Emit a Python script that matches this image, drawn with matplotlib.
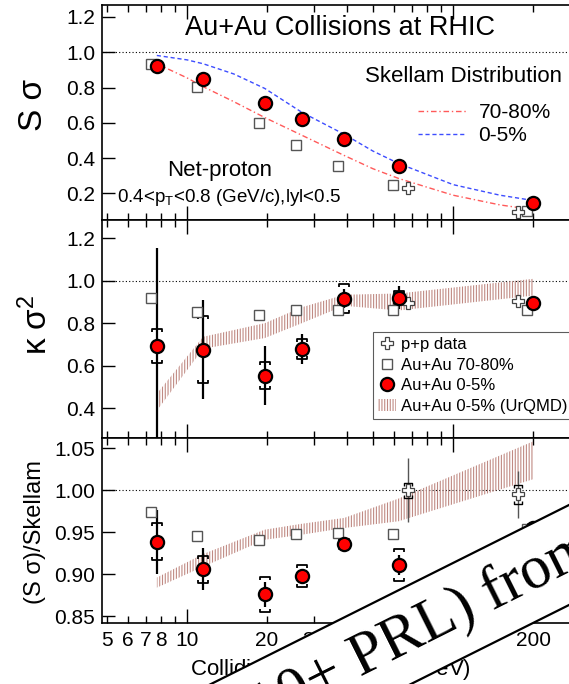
import numpy as np
import matplotlib
matplotlib.use('Agg')
import matplotlib.pyplot as plt
from matplotlib.path import Path
from matplotlib.lines import Line2D
from matplotlib.patches import Patch, Polygon
from matplotlib.transforms import offset_copy

plt.rcParams['font.family'] = ['Liberation Sans', 'DejaVu Sans']
plt.rcParams['mathtext.default'] = 'regular'
plt.rcParams['hatch.linewidth'] = 0.8

# collision energies (GeV)
energy = np.array([7.7, 11.5, 19.6, 27.0, 39.0, 62.4, 200.0])
energy_pp = np.array([62.4, 200.0])

# S*sigma
ss_central = [0.921, 0.848, 0.713, 0.623, 0.510, 0.358, 0.144]
ss_periph = [0.932, 0.803, 0.600, 0.476, 0.358, 0.245, 0.099]
ss_pp = [0.228, 0.093]

# Skellam expectation curves
skellam_energy = [7.7, 10, 11.5, 15, 19.6, 27, 39, 50, 62.4, 100, 150, 200]
skellam_central = [0.982, 0.957, 0.935, 0.877, 0.795, 0.660, 0.535, 0.440, 0.370, 0.250, 0.190, 0.160]
skellam_periph = [0.935, 0.855, 0.805, 0.720, 0.630, 0.530, 0.415, 0.340, 0.285, 0.190, 0.135, 0.108]

# kappa*sigma^2
ks_central = [0.694, 0.675, 0.553, 0.680, 0.916, 0.920, 0.896]
ks_central_stat = [0.46, 0.233, 0.14, 0.07, 0.045, 0.055, 0.01]
ks_central_sys = [0.08, 0.158, 0.062, 0.047, 0.067, 0.031, 0.008]
ks_periph = [0.920, 0.854, 0.840, 0.860, 0.860, 0.863, 0.860]
ks_pp = [0.896, 0.906]
ks_urqmd_lo = [0.388, 0.680, 0.730, 0.800, 0.882, 0.860, 0.930]
ks_urqmd_hi = [0.468, 0.736, 0.800, 0.875, 0.934, 0.940, 1.009]

# (S sigma)/Skellam
ratio_central = [0.9385, 0.906, 0.876, 0.898, 0.936, 0.911, 0.955]
ratio_central_stat = [0.038, 0.025, 0.015, 0.008, 0.004, 0.012, 0.004]
ratio_central_sys = [0.022, 0.016, 0.021, 0.013, 0.006, 0.019, 0.005]
ratio_periph = [0.974, 0.946, 0.941, 0.948, 0.949, 0.948, 0.954]
ratio_periph_sys = [0.002, 0.002, 0.002, 0.005, 0.005, 0.004, 0.004]
ratio_pp = [1.000, 0.995]
ratio_pp_stat = [0.038, 0.028]
ratio_pp_sys = [0.009, 0.011]
ratio_urqmd_lo = [0.884, 0.909, 0.941, 0.947, 0.955, 0.963, 1.013]
ratio_urqmd_hi = [0.896, 0.924, 0.953, 0.960, 0.967, 0.990, 1.058]

xticks_major = [10, 100]
xticks_minor = [5, 6, 7, 8, 9, 20, 30, 40, 50, 60, 70, 80, 90, 200]
xlabels_minor = ['5', '6', '7', '8', '', '20', '30', '', '', '', '', '', '', '200']

band_color = '#c08a83'
band_hatch = '||||||'
cap_up = Path([(-1, -0.7), (-1, 0), (1, 0), (1, -0.7)])
cap_dn = Path([(-1, 0.7), (-1, 0), (1, 0), (1, 0.7)])

fig = plt.figure(figsize=(5.69, 6.84), dpi=100)
left, width = 0.1793, 0.8313
ax1 = fig.add_axes([left, 0.678, width, 0.3147])
ax2 = fig.add_axes([left, 0.3596, width, 0.3184])
ax3 = fig.add_axes([left, 0.0892, width, 0.2704])


def sys_caps(ax, x, y, err, size=7, lw=1.3, color='k', trans=None):
    y = np.asarray(y)
    err = np.asarray(err)
    kw = dict(ls='none', ms=size, mew=lw, mec=color, mfc='none', zorder=4)
    if trans is not None:
        kw['transform'] = trans
    ax.plot(x, y + err, marker=cap_up, **kw)
    ax.plot(x, y - err, marker=cap_dn, **kw)


def style(ax, ylim, yticks, fmt, labels=False):
    ax.set_xscale('log')
    ax.set_xlim(4.793, 287.4)
    ax.set_ylim(*ylim)
    ax.set_xticks(xticks_major, ['10', '100'])
    ax.set_xticks(xticks_minor, xlabels_minor, minor=True)
    ax.set_yticks(yticks, [fmt % v for v in yticks])
    ax.yaxis.set_minor_locator(plt.NullLocator())
    ax.tick_params(axis='x', which='both', direction='in', top=True, bottom=True,
                   labelsize=15, pad=6, labelbottom=labels)
    ax.tick_params(axis='x', which='major', length=10, width=1)
    ax.tick_params(axis='x', which='minor', length=5, width=1)
    ax.tick_params(axis='y', which='both', direction='in', left=True, right=False,
                   length=9, width=1, labelsize=15, pad=5)
    for s in ax.spines.values():
        s.set_linewidth(1.2)
    ax.axhline(1.0, color='k', ls=(0, (1, 2)), lw=0.8, zorder=1)


def shifted(ax, dx):
    return offset_copy(ax.transData, fig=fig, x=dx, y=0, units='dots')


circ = dict(ls='none', marker='o', ms=9.5, mfc='red', mec='k', mew=1.6, zorder=6)
sq = dict(ls='none', marker='s', ms=7, mfc='white', mec='#555555', mew=1.0, zorder=5)
cross = dict(ls='none', marker='P', ms=8, mfc='white', mec='#444444', mew=0.9, zorder=5)
pp_dx = [9, -15]

# --- S sigma ---
style(ax1, (0.048, 1.268), [0.2, 0.4, 0.6, 0.8, 1.0, 1.2], '%.1f')
l_per, = ax1.plot(skellam_energy, skellam_periph, color='#ff5a5a', lw=1.0,
                  ls=(0, (4, 2, 1, 2)), zorder=2)
l_cen, = ax1.plot(skellam_energy, skellam_central, color='#3d4dff', lw=1.0,
                  ls=(0, (3, 2)), zorder=2)
ax1.plot(energy, ss_periph, transform=shifted(ax1, -6), **sq)
for e, v, dx in zip(energy_pp, ss_pp, pp_dx):
    ax1.plot([e], [v], transform=shifted(ax1, dx), **cross)
ax1.plot(energy, ss_central, **circ)
ax1.text(0.176, 0.893, 'Au+Au Collisions at RHIC', transform=ax1.transAxes,
         fontsize=19.5, va='center')
ax1.text(0.556, 0.67, 'Skellam Distribution', transform=ax1.transAxes,
         fontsize=16, va='center')
ax1.text(0.1375, 0.233, 'Net-proton', transform=ax1.transAxes, fontsize=16, va='center')
ax1.text(0.032, 0.107, '0.4<p$_T$<0.8 (GeV/c),lyl<0.5', transform=ax1.transAxes,
         fontsize=13.5, va='center')
ax1.legend([l_per, l_cen], ['70-80%', '0-5%'], loc='upper left',
           bbox_to_anchor=(0.668, 0.545), borderaxespad=0, borderpad=0, frameon=False,
           fontsize=15, handlelength=2.3, handletextpad=0.6, labelspacing=0.2)

# --- kappa sigma^2 ---
style(ax2, (0.259, 1.285), [0.4, 0.6, 0.8, 1.0, 1.2], '%.1f')
ax2.fill_between(energy, ks_urqmd_lo, ks_urqmd_hi, facecolor='none',
                 edgecolor=band_color, hatch=band_hatch, lw=0, zorder=2)
ax2.plot(energy, ks_periph, transform=shifted(ax2, -6), **sq)
for e, v, dx in zip(energy_pp, ks_pp, pp_dx):
    ax2.plot([e], [v], transform=shifted(ax2, dx), **cross)
ax2.errorbar(energy, ks_central, yerr=ks_central_stat, fmt='none', ecolor='k',
             elinewidth=1.6, capsize=0, zorder=3)
sys_caps(ax2, energy, ks_central, ks_central_sys)
ax2.plot(energy, ks_central, **circ)
handles = [Line2D([], [], **cross), Line2D([], [], **sq), Line2D([], [], **circ),
           Patch(facecolor='none', edgecolor=band_color, hatch=band_hatch, lw=0)]
leg = ax2.legend(handles, ['p+p data', 'Au+Au 70-80%', 'Au+Au 0-5%', 'Au+Au 0-5% (UrQMD)'],
                 loc='upper left', bbox_to_anchor=(0.573, 0.486), borderaxespad=0,
                 fancybox=False, edgecolor='#333333', fontsize=12, handlelength=1.1,
                 handletextpad=0.3, labelspacing=0.33, borderpad=0.3)
leg.get_frame().set_linewidth(0.8)

# --- (S sigma)/Skellam ---
style(ax3, (0.842, 1.062), [0.85, 0.90, 0.95, 1.00, 1.05], '%.2f', labels=True)
ax3.fill_between(energy, ratio_urqmd_lo, ratio_urqmd_hi, facecolor='none',
                 edgecolor=band_color, hatch=band_hatch, lw=0, zorder=2)
ax3.plot(energy, ratio_periph, transform=shifted(ax3, -6), **sq)
sys_caps(ax3, energy, ratio_periph, ratio_periph_sys, size=6, lw=1.0,
         trans=shifted(ax3, -6))
for e, v, st, sy, dx in zip(energy_pp, ratio_pp, ratio_pp_stat, ratio_pp_sys, pp_dx):
    tr = shifted(ax3, dx)
    ax3.errorbar([e], [v], yerr=[st], fmt='none', ecolor='#555555', elinewidth=1.0,
                 capsize=0, zorder=3, transform=tr)
    sys_caps(ax3, [e], [v], [sy], size=6, lw=1.0, trans=tr)
    ax3.plot([e], [v], transform=tr, **cross)
ax3.errorbar(energy, ratio_central, yerr=ratio_central_stat, fmt='none', ecolor='k',
             elinewidth=1.6, capsize=0, zorder=3)
sys_caps(ax3, energy, ratio_central, ratio_central_sys)
ax3.plot(energy, ratio_central, **circ)

fig.text(0.058, 0.846, 'S σ', rotation=90, fontsize=24, ha='center', va='center')
fig.text(0.065, 0.525, 'κ σ$^2$', rotation=90, fontsize=24, ha='center', va='center')
fig.text(0.0615, 0.222, '(S σ)/Skellam', rotation=90, fontsize=17, ha='center', va='center')
fig.text(0.334, 0.013, 'Colliding Energy √s$_{NN}$ (GeV)', fontsize=16,
         ha='left', va='baseline')

# slanted banner across the lower right corner
over = fig.add_axes([0, 0, 1, 1], zorder=10)
over.set_xlim(0, 569)
over.set_ylim(684, 0)
over.axis('off')
bx = np.array([150.0, 700.0])
by_top = 505 + 0.5 * (569 - bx)
by_bot = by_top + 100
over.add_patch(Polygon([[bx[0], by_top[0]], [bx[1], by_top[1]],
                        [bx[1], by_bot[1]], [bx[0], by_bot[0]]],
                       closed=True, fc='white', ec='none'))
over.plot(bx, by_top, color='k', lw=1.6)
over.plot(bx, by_bot, color='k', lw=1.6)
over.text(599, 557, '(10+ PRL) from', rotation=np.degrees(np.arctan(0.5)),
          rotation_mode='anchor', ha='right', va='baseline',
          family='Liberation Serif', fontsize=44)

fig.savefig('out.png', dpi=100)
